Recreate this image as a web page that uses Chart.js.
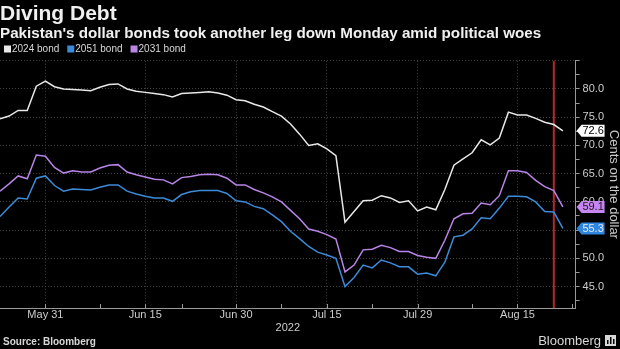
<!DOCTYPE html>
<html>
<head>
<meta charset="utf-8">
<script src="https://cdn.jsdelivr.net/npm/chart.js@4"></script>
<style>
html,body{margin:0;padding:0;background:#000;}
#wrap{position:relative;width:620px;height:349px;}
</style>
</head>
<body>
<div id="wrap"><canvas id="myChart" width="620" height="349"></canvas></div>
<script>
//================================ DATA ================================//
var dates = [
    "May 23","May 24","May 25","May 26","May 27","May 31",
    "Jun 1","Jun 2","Jun 3","Jun 6","Jun 7","Jun 8","Jun 9","Jun 10","Jun 13","Jun 14","Jun 15",
    "Jun 16","Jun 17","Jun 21","Jun 22","Jun 23","Jun 24","Jun 27","Jun 28","Jun 29","Jun 30",
    "Jul 1","Jul 5","Jul 6","Jul 7","Jul 8","Jul 11","Jul 12","Jul 13","Jul 14","Jul 15",
    "Jul 18","Jul 19","Jul 20","Jul 21","Jul 22","Jul 25","Jul 26","Jul 27","Jul 28","Jul 29",
    "Aug 1","Aug 2","Aug 3","Aug 4","Aug 5","Aug 8","Aug 9","Aug 10","Aug 11","Aug 12","Aug 15",
    "Aug 16","Aug 17","Aug 18","Aug 19","Aug 22"
];
var bond2024 = [
    74.7,75.2,76.2,76.2,80.5,81.4,
    80.4,80.0,79.9,79.8,79.7,80.3,80.8,80.9,80.0,79.6,79.4,
    79.2,79.0,78.6,79.2,79.3,79.4,79.5,79.3,78.9,78.1,
    77.9,77.3,76.8,76.0,75.2,73.8,72.0,70.0,70.3,69.4,
    68.2,56.4,58.3,60.2,60.3,61.1,60.7,59.9,60.2,58.4,
    59.1,58.6,62.2,66.5,67.6,68.7,71.0,70.1,71.3,75.9,75.4,
    75.4,74.8,74.1,73.7,72.6
];
var bond2051 = [
    57.4,59.1,60.7,60.5,64.2,64.6,
    62.9,61.9,62.3,62.2,62.1,62.6,63.0,63.0,61.9,61.4,61.0,
    60.7,60.7,60.1,61.3,61.8,62.0,62.0,62.0,61.5,60.2,
    60.0,59.2,58.8,57.7,56.5,54.8,53.5,52.1,51.1,50.6,
    50.0,45.0,46.6,48.8,48.3,49.7,49.2,48.5,48.5,47.2,
    47.4,46.9,49.3,53.8,54.1,55.2,57.2,57.0,58.9,61.0,61.0,
    60.9,60.0,58.3,58.2,55.3
];
var bond2031 = [
    61.9,63.2,64.6,64.1,68.3,68.1,
    66.1,65.1,65.5,65.3,65.3,66.0,66.5,66.6,65.3,64.8,64.4,
    64.0,63.9,63.2,64.3,64.5,64.8,64.9,64.8,64.2,63.0,
    63.0,62.2,61.6,60.9,60.0,58.5,57.0,55.2,54.8,54.2,
    53.4,47.6,48.8,51.5,51.6,52.3,51.9,51.2,51.2,50.5,
    50.2,50.0,53.2,57.0,57.9,58.0,59.8,59.5,61.1,65.5,65.5,
    65.2,63.8,62.7,62.0,59.1
];
var xTickLabels = ["May 31","Jun 15","Jun 30","Jul 15","Jul 29","Aug 15"];
var xMinorDates = ["Jun 8","Jun 22","Jul 8","Jul 22","Aug 8"];
var yTickValues = [42.5,45,47.5,50,52.5,55,57.5,60,62.5,65,67.5,70,72.5,75,77.5,80,82.5,85];
var eventDate = "Aug 19";

//================================ SETUP ================================//
var FONT = "'Liberation Sans', Arial, sans-serif";
var xMajorIdx = xTickLabels.map(function(d){ return dates.indexOf(d); });
var xMinorIdx = xMinorDates.map(function(d){ return dates.indexOf(d); });
xMinorIdx.push(dates.length); // one more after the last day
var xAllTicks = xMajorIdx.concat(xMinorIdx).sort(function(a,b){ return a-b; });

function toPoints(arr){
    return arr.map(function(v,i){ return {x:i, y:v}; });
}

var bgPlugin = {
    id: "bg",
    beforeDraw: function(chart){
        var ctx = chart.ctx;
        ctx.save();
        ctx.fillStyle = "#000";
        ctx.fillRect(0,0,chart.width,chart.height);
        ctx.restore();
    }
};

var eventLine = {
    id: "eventLine",
    beforeDatasetsDraw: function(chart){
        var ctx = chart.ctx, a = chart.chartArea;
        var x = chart.scales.x.getPixelForValue(dates.indexOf(eventDate));
        ctx.save();
        ctx.strokeStyle = "#b3282e";
        ctx.lineWidth = 2;
        ctx.beginPath();
        ctx.moveTo(x, a.top);
        ctx.lineTo(x, a.bottom);
        ctx.stroke();
        ctx.restore();
    }
};

var extras = {
    id: "extras",
    afterDraw: function(chart){
        var ctx = chart.ctx, a = chart.chartArea;
        var xs = chart.scales.x, ys = chart.scales.y;
        ctx.save();

        // little ticks pointing up from the x axis
        ctx.strokeStyle = "#999";
        ctx.lineWidth = 1;
        xAllTicks.forEach(function(i){
            var x = Math.round(xs.getPixelForValue(i)) + 0.5;
            ctx.beginPath();
            ctx.moveTo(x, a.bottom);
            ctx.lineTo(x, a.bottom - 4);
            ctx.stroke();
        });

        // legend
        ctx.font = "10px " + FONT;
        ctx.textBaseline = "middle";
        var lx = 4, ly = 49;
        chart.data.datasets.forEach(function(ds){
            ctx.fillStyle = ds.borderColor;
            ctx.fillRect(lx, ly - 3.5, 7, 7);
            lx += 8;
            ctx.fillStyle = "#d8d8d8";
            ctx.textAlign = "left";
            ctx.fillText(ds.label, lx, ly);
            lx += ctx.measureText(ds.label).width + 8;
        });

        // last value tags
        ctx.font = "11px " + FONT;
        chart.data.datasets.forEach(function(ds){
            var last = ds.data[ds.data.length-1].y;
            var y = ys.getPixelForValue(last);
            var x0 = a.right + 1;
            ctx.fillStyle = ds.tagColor;
            ctx.beginPath();
            ctx.moveTo(x0, y);
            ctx.lineTo(x0 + 5, y - 6);
            ctx.lineTo(x0 + 28, y - 6);
            ctx.lineTo(x0 + 28, y + 6);
            ctx.lineTo(x0 + 5, y + 6);
            ctx.closePath();
            ctx.fill();
            ctx.fillStyle = ds.tagText;
            ctx.textAlign = "center";
            ctx.fillText(last.toFixed(1), x0 + 16.5, y + 0.5);
        });

        // footer
        ctx.textAlign = "left";
        ctx.fillStyle = "#d8d8d8";
        ctx.font = "bold 10px " + FONT;
        ctx.fillText("Source: Bloomberg", 3, 342);
        ctx.font = "13px " + FONT;
        ctx.textAlign = "right";
        ctx.fillText("Bloomberg", 601, 341);
        // small logo square
        ctx.fillStyle = "#d8d8d8";
        ctx.fillRect(605, 335, 11, 11);
        ctx.fillStyle = "#000";
        ctx.fillRect(607, 340, 1.5, 4);
        ctx.fillRect(610, 337, 1.5, 7);
        ctx.fillRect(613, 339, 1.5, 5);
        ctx.restore();
    }
};

new Chart("myChart", {
    type: "line",
    data: {
        datasets: [{
            label: "2024 bond",
            data: toPoints(bond2024),
            borderColor: "#e8e8e8",
            backgroundColor: "#e8e8e8",
            tagColor: "#ffffff",
            tagText: "#000",
            borderWidth: 1.5,
            pointRadius: 0,
            tension: 0
        },{
            label: "2051 bond",
            data: toPoints(bond2051),
            borderColor: "#3d8ad8",
            backgroundColor: "#3d8ad8",
            tagColor: "#2f86e0",
            tagText: "#e8e8e8",
            borderWidth: 1.5,
            pointRadius: 0,
            tension: 0
        },{
            label: "2031 bond",
            data: toPoints(bond2031),
            borderColor: "#b884e6",
            backgroundColor: "#b884e6",
            tagColor: "#c685f0",
            tagText: "#1a1a1a",
            borderWidth: 1.5,
            pointRadius: 0,
            tension: 0
        }]
    },
    options: {
        responsive: false,
        animation: false,
        layout: { padding: { left: 0, right: 0, top: 0, bottom: 14.6 } },
        plugins: {
            legend: { display: false },
            tooltip: { enabled: false },
            title: {
                display: true,
                text: "Diving Debt",
                align: "start",
                color: "#f0f0f0",
                font: { family: FONT, size: 21, weight: "bold", lineHeight: 1.05 },
                padding: { top: 3, bottom: 0 }
            },
            subtitle: {
                display: true,
                text: "Pakistan's dollar bonds took another leg down Monday amid political woes",
                align: "start",
                color: "#f0f0f0",
                font: { family: FONT, size: 15.2, weight: "bold", lineHeight: 1.1 },
                padding: { top: 0, bottom: 19 }
            }
        },
        scales: {
            x: {
                type: "linear",
                min: 0,
                max: 63.4,
                afterBuildTicks: function(scale){
                    scale.ticks = xAllTicks.map(function(v){ return {value:v}; });
                },
                ticks: {
                    autoSkip: false,
                    maxRotation: 0,
                    color: "#cccccc",
                    padding: 0,
                    font: { family: FONT, size: 11 },
                    callback: function(v){
                        var k = xMajorIdx.indexOf(v);
                        return k >= 0 ? xTickLabels[k] : "";
                    }
                },
                grid: {
                    drawTicks: false,
                    color: function(c){
                        return (c.tick && xMajorIdx.indexOf(c.tick.value) >= 0) ? "#444" : "transparent";
                    }
                },
                border: { display: true, color: "#999", width: 1, dash: [1,2] },
                title: {
                    display: true,
                    text: "2022",
                    color: "#cccccc",
                    font: { family: FONT, size: 11 },
                    padding: { top: 0, bottom: 0 }
                }
            },
            y: {
                position: "right",
                min: 41.2,
                max: 85,
                afterBuildTicks: function(scale){
                    scale.ticks = yTickValues.map(function(v){ return {value:v}; });
                },
                ticks: {
                    autoSkip: false,
                    color: "#cccccc",
                    padding: 3,
                    font: { family: FONT, size: 11 },
                    callback: function(v){
                        return (v % 5 === 0 && v < 85) ? v.toFixed(1) : "";
                    }
                },
                grid: {
                    drawTicks: true,
                    tickLength: 4,
                    tickColor: "#999",
                    color: function(c){
                        return (c.tick && c.tick.value % 5 === 0) ? "#444" : "transparent";
                    }
                },
                border: { display: true, color: "#999", width: 1, dash: [1,2] },
                title: {
                    display: true,
                    text: "Cents on the dollar",
                    color: "#cccccc",
                    font: { family: FONT, size: 13, lineHeight: 1.0 },
                    padding: { top: 0, bottom: 0 }
                }
            }
        }
    },
    plugins: [bgPlugin, eventLine, extras]
});
</script>
</body>
</html>
